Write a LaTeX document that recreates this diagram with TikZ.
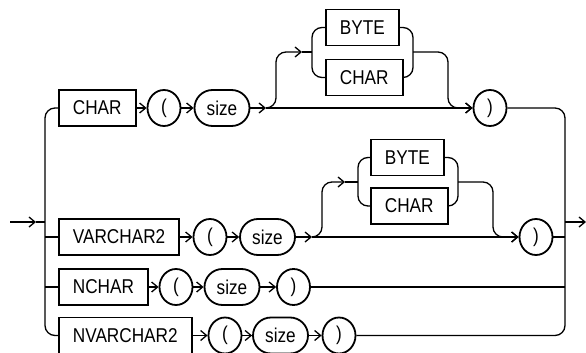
\documentclass[tikz,border=0pt]{standalone}
\usepackage{fontspec}
\setmainfont{Liberation Sans}[FakeStretch=0.86]
\usepackage{tikz}
\usetikzlibrary{positioning,arrows.meta,shapes.geometric}

\begin{document}
\begin{tikzpicture}[x=1pt, y=-1pt,
    >={Straight Barb[length=6pt,width=10pt]},
    rail/.style={line width=1.3pt},
    kw/.style={draw, line width=1.8pt, minimum height=36pt, inner xsep=14pt, inner ysep=0pt, font=\fontsize{20}{21}\selectfont},
    var/.style={draw, line width=1.8pt, rounded corners=18pt, minimum width=55pt, minimum height=36pt, inner sep=0pt, font=\fontsize{20}{21}\selectfont},
    sym/.style={draw, ellipse, line width=1.8pt, minimum width=33pt, minimum height=36pt, inner sep=0pt, font=\fontsize{20}{21}\selectfont}]
  \useasboundingbox (0,0) rectangle (586,353);

  % Row CHAR
  \node[kw, anchor=west] (chr1) at (58,108) {CHAR};
  \node[sym] (lp1) at (164,108) {(};
  \node[var] (sz1) at (222,108) {size};
  \node[sym] (rp1) at (490,108) {)};
  \node[kw, anchor=west] (byte1) at (325,27.5) {BYTE};
  \node[kw, anchor=west] (chrb1) at (325,77.5) {CHAR};
  \coordinate (j1) at (266,108);
  \coordinate (g1in) at (302,52);
  \coordinate (bl1) at (312,52);
  \coordinate (br1) at (413,52);

  % Row VARCHAR2
  \node[kw, anchor=west] (vc2) at (58,237) {VARCHAR2};
  \node[sym] (lp2) at (210,237) {(};
  \node[var] (sz2) at (267.5,237) {size};
  \node[sym] (rp2) at (536,237) {)};
  \node[kw, anchor=west] (byte2) at (370,157.5) {BYTE};
  \node[kw, anchor=west] (chrb2) at (370,206) {CHAR};
  \coordinate (j2) at (312,237);
  \coordinate (g2in) at (345,182);
  \coordinate (bl2) at (358,182);
  \coordinate (br2) at (458,182);

  % Row NCHAR
  \node[kw, anchor=west] (nc3) at (58,287) {NCHAR};
  \node[sym] (lp3) at (176,287) {(};
  \node[var] (sz3) at (232,287) {size};
  \node[sym] (rp3) at (293.5,287) {)};

  % Row NVARCHAR2
  \node[kw, anchor=west] (nvc4) at (58,335.5) {NVARCHAR2};
  \node[sym] (lp4) at (225,335.5) {(};
  \node[var] (sz4) at (280.5,335.5) {size};
  \node[sym] (rp4) at (339,335.5) {)};

  % entry and exit rails
  \coordinate (in) at (10,222);
  \coordinate (inarr) at (36,222);
  \coordinate (lv) at (45,222);
  \coordinate (rv) at (565,222);
  \coordinate (out) at (586,222);
  \draw[rail, ->] (in) -- (inarr);
  \draw[rail] (inarr) -- (lv);
  \draw[rail, rounded corners=10pt] (chr1.west) -| (lv) |- (nvc4.west);
  \draw[rail] (vc2.west) -- (vc2.west -| lv);
  \draw[rail] (nc3.west) -- (nc3.west -| lv);
  \draw[rail, rounded corners=10pt] (rp1.east) -| (rv) |- (rp4.east);
  \draw[rail] (rp2.east) -- (rp2.east -| rv);
  \draw[rail] (rp3.east) -- (rp3.east -| rv);
  \draw[rail, ->] (rv) -- (out);

  % CHAR sequence
  \draw[rail, ->] (chr1) -- (lp1);
  \draw[rail, ->] (lp1) -- (sz1);
  \draw[rail, ->] (sz1) -- (j1);
  \draw[rail, ->] (j1) -- (rp1);
  \draw[rail, ->, rounded corners=10pt] (j1) -- ++(10,0) |- (g1in);
  \draw[rail] (g1in) -- (bl1);
  \draw[rail, rounded corners=10pt] (byte1.west) -| (bl1) |- (chrb1.west);
  \draw[rail, rounded corners=10pt] (byte1.east) -| (br1) |- (chrb1.east);
  \draw[rail, ->, rounded corners=10pt] (br1) -- (448,52) |- (rp1.west);

  % VARCHAR2 sequence
  \draw[rail, ->] (vc2) -- (lp2);
  \draw[rail, ->] (lp2) -- (sz2);
  \draw[rail, ->] (sz2) -- (j2);
  \draw[rail, ->] (j2) -- (rp2);
  \draw[rail, ->, rounded corners=10pt] (j2) -- ++(10,0) |- (g2in);
  \draw[rail] (g2in) -- (bl2);
  \draw[rail, rounded corners=10pt] (byte2.west) -| (bl2) |- (chrb2.west);
  \draw[rail, rounded corners=10pt] (byte2.east) -| (br2) |- (chrb2.east);
  \draw[rail, ->, rounded corners=10pt] (br2) -- (493,182) |- (rp2.west);

  % NCHAR and NVARCHAR2 sequences
  \draw[rail, ->] (nc3) -- (lp3);
  \draw[rail, ->] (lp3) -- (sz3);
  \draw[rail, ->] (sz3) -- (rp3);
  \draw[rail, ->] (nvc4) -- (lp4);
  \draw[rail, ->] (lp4) -- (sz4);
  \draw[rail, ->] (sz4) -- (rp4);
\end{tikzpicture}
\end{document}
